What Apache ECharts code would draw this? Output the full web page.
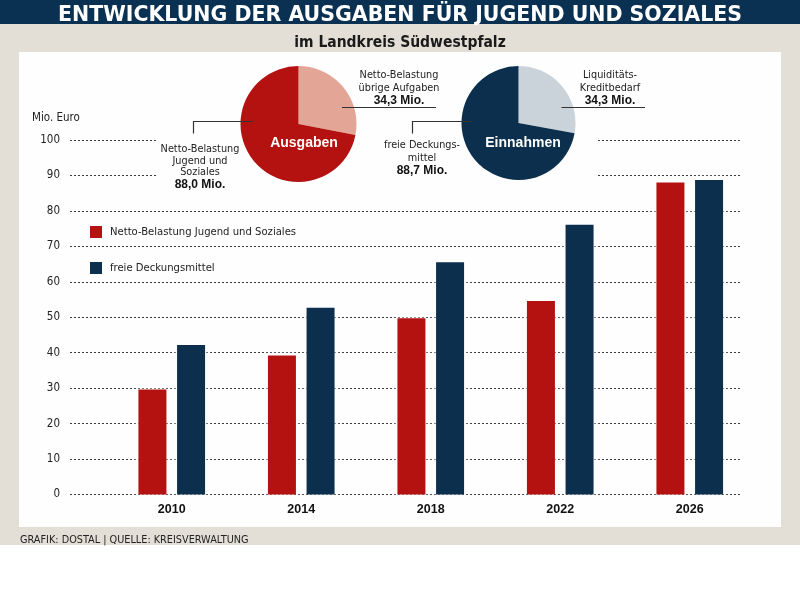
<!DOCTYPE html>
<html>
<head>
<meta charset="utf-8">
<script src="https://cdn.jsdelivr.net/npm/echarts@6/dist/echarts.min.js"></script>
<style>
  html, body { margin: 0; padding: 0; background: #fff; }
  #main { width: 800px; height: 609px; }
</style>
</head>
<body>
<div id="main"></div>
<script>
  // Daten
  var years = ["2010", "2014", "2018", "2022", "2026"]
  var nettoJugend = [29.6, 39.2, 49.7, 54.6, 88.0]
  var freieDeckung = [42.2, 52.7, 65.5, 76.1, 88.7]
  var yMin = 0, yMax = 100, yStep = 10

  var ausgabenNames = ["Netto-Belastung übrige Aufgaben", "Netto-Belastung Jugend und Soziales"]
  var ausgabenValues = [34.3, 88.0]
  var einnahmenNames = ["Liquiditäts-Kreditbedarf", "freie Deckungsmittel"]
  var einnahmenValues = [34.3, 88.7]

  var RED = "#b31210", RED_LIGHT = "#e3a595"
  var NAVY = "#0b2f4d", NAVY_LIGHT = "#cad3da"
  var NARROW = "'DejaVu Sans Condensed', 'Liberation Sans Narrow', sans-serif"
  var SANS = "'Liberation Sans', Arial, sans-serif"

  function mio (v) {
    return v.toFixed(1).replace(".", ",") + " Mio."
  }

  // mehrzeiliges Label, letzte Zeile fett
  function note (lines, value, x, y, lh) {
    var txt = lines.map(function (l) { return "{n|" + l + "}" }).join("\n") + "\n{b|" + mio(value) + "}"
    return {
      type: "text", z: 20, x: x, y: y,
      style: {
        text: txt, textAlign: "center", textVerticalAlign: "top", fill: "#222",
        rich: {
          n: { fontFamily: NARROW, fontSize: 10.8, lineHeight: lh, fill: "#222", align: "center" },
          b: { fontFamily: SANS, fontSize: 12, fontWeight: "bold", lineHeight: lh, fill: "#111", align: "center" }
        }
      }
    }
  }

  function leader (points) {
    return { type: "polyline", z: 20, shape: { points: points }, style: { stroke: "#333", lineWidth: 1.2, fill: null } }
  }

  var chart = echarts.init(document.getElementById("main"))

  chart.setOption({
    backgroundColor: "#fff",
    animation: false,
    title: [
      {
        text: "ENTWICKLUNG DER AUSGABEN FÜR JUGEND UND SOZIALES",
        left: "center", top: 0,
        textStyle: { color: "#fff", fontFamily: "'DejaVu Sans', sans-serif", fontWeight: "bold", fontSize: 20.5 }
      },
      {
        text: "im Landkreis Südwestpfalz",
        left: "center", top: 30,
        textStyle: { color: "#1a1a1a", fontFamily: NARROW, fontWeight: "bold", fontSize: 15.5 }
      },
      {
        text: "Mio. Euro", left: 27, top: 107,
        textStyle: { color: "#222", fontFamily: NARROW, fontWeight: "normal", fontSize: 11.5 }
      },
      {
        text: "GRAFIK: DOSTAL | QUELLE: KREISVERWALTUNG", left: 15, top: 530,
        textStyle: { color: "#222", fontFamily: NARROW, fontWeight: "normal", fontSize: 10.8 }
      },
      {
        text: "Ausgaben", left: 299, top: 131, textAlign: "center", z: 10,
        textStyle: { color: "#fff", fontFamily: SANS, fontWeight: "bold", fontSize: 14 }
      },
      {
        text: "Einnahmen", left: 518, top: 131, textAlign: "center", z: 10,
        textStyle: { color: "#fff", fontFamily: SANS, fontWeight: "bold", fontSize: 14 }
      }
    ],
    legend: {
      orient: "vertical", left: 90, top: 226, padding: 0,
      itemWidth: 12, itemHeight: 12, itemGap: 24, icon: "rect",
      textStyle: { fontFamily: NARROW, fontSize: 11.2, color: "#222", padding: [0, 0, 0, 3] },
      data: ["Netto-Belastung Jugend und Soziales", "freie Deckungsmittel"]
    },
    graphic: [
      { type: "rect", z: -20, shape: { x: 0, y: 0, width: 800, height: 545 }, style: { fill: "#e4dfd6" } },
      { type: "rect", z: -19, shape: { x: 0, y: 0, width: 800, height: 24 }, style: { fill: "#0a3152" } },
      { type: "rect", z: -19, shape: { x: 19, y: 52, width: 762, height: 475 }, style: { fill: "#fefefe" } },
      // Gitterlinien hinter den Kreisen unterbrechen
      { type: "rect", z: 1, shape: { x: 157, y: 132, width: 439, height: 50 }, style: { fill: "#fefefe" } },
      note(["Netto-Belastung", "übrige Aufgaben"], ausgabenValues[0], 399, 69.5, 12.3),
      leader([[342, 107.5], [436, 107.5]]),
      note(["Netto-Belastung", "Jugend und", "Soziales"], ausgabenValues[1], 200, 143, 11.8),
      leader([[193.5, 133.5], [193.5, 121.5], [253, 121.5]]),
      note(["Liquiditäts-", "Kreditbedarf"], einnahmenValues[0], 610, 69.5, 12.3),
      leader([[561.5, 107.5], [645, 107.5]]),
      note(["freie Deckungs-", "mittel"], einnahmenValues[1], 422, 139.5, 12.3),
      leader([[412.5, 133.5], [412.5, 121.5], [472, 121.5]])
    ],
    grid: [
      { left: 70, right: 60, top: 140, bottom: 114.5 },
      { left: 107, right: 45.5, top: 140, bottom: 114.5 }
    ],
    xAxis: [
      { gridIndex: 0, type: "category", data: years, show: false },
      {
        gridIndex: 1, type: "category", data: years,
        axisLine: { show: false }, axisTick: { show: false },
        axisLabel: { margin: 9, color: "#111", fontFamily: SANS, fontWeight: "bold", fontSize: 12.5 }
      }
    ],
    yAxis: [
      {
        gridIndex: 0, type: "value", min: yMin, max: yMax, interval: yStep,
        axisLine: { show: false }, axisTick: { show: false },
        axisLabel: { margin: 10, color: "#222", fontFamily: NARROW, fontSize: 11.5 },
        splitLine: { lineStyle: { color: "#3a3a3a", width: 1, type: [2, 2] } }
      },
      { gridIndex: 1, type: "value", min: yMin, max: yMax, interval: yStep, show: false, splitLine: { show: false } }
    ],
    series: [
      {
        name: "Netto-Belastung Jugend und Soziales", type: "bar",
        xAxisIndex: 1, yAxisIndex: 1, z: 5,
        barWidth: 28, barGap: "38%",
        itemStyle: { color: RED, shadowColor: "#ffffff", shadowBlur: 8 },
        data: nettoJugend
      },
      {
        name: "freie Deckungsmittel", type: "bar",
        xAxisIndex: 1, yAxisIndex: 1, z: 5,
        barWidth: 28, barGap: "38%",
        itemStyle: { color: NAVY, shadowColor: "#ffffff", shadowBlur: 8 },
        data: freieDeckung
      },
      {
        type: "pie", z: 5, center: [298.5, 124], radius: 58, startAngle: 90, clockwise: true,
        label: { show: false }, labelLine: { show: false }, silent: true,
        data: ausgabenNames.map(function (n, i) {
          return { name: n, value: ausgabenValues[i], itemStyle: { color: i === 0 ? RED_LIGHT : RED } }
        })
      },
      {
        type: "pie", z: 5, center: [518.5, 123], radius: 57, startAngle: 90, clockwise: true,
        label: { show: false }, labelLine: { show: false }, silent: true,
        data: einnahmenNames.map(function (n, i) {
          return { name: n, value: einnahmenValues[i], itemStyle: { color: i === 0 ? NAVY_LIGHT : NAVY } }
        })
      }
    ]
  })
</script>
</body>
</html>
